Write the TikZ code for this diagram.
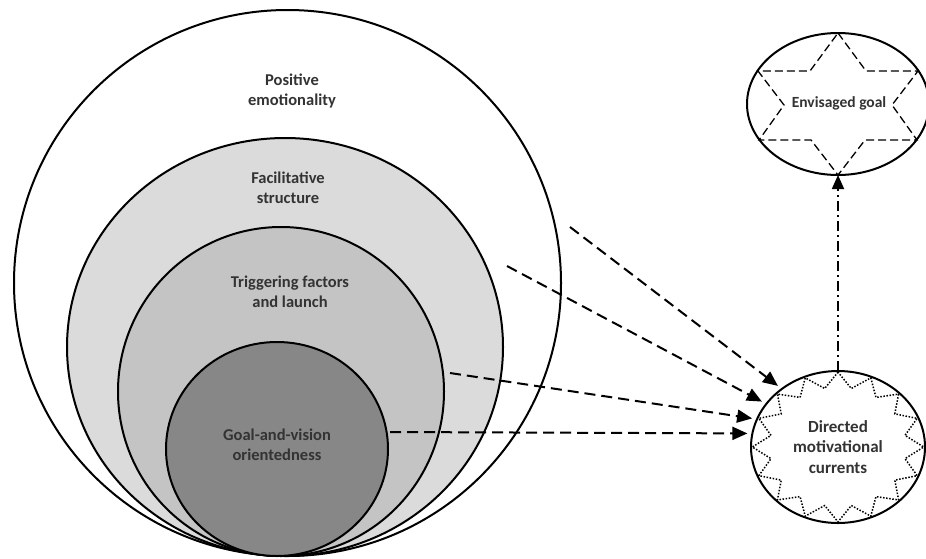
\documentclass[tikz,border=0pt]{standalone}
\usepackage{fontspec}
\setmainfont{Carlito}
\usetikzlibrary{arrows.meta,shapes.geometric}
\definecolor{fsgray}{gray}{0.86}
\definecolor{tfgray}{gray}{0.77}
\definecolor{gvgray}{gray}{0.53}
\definecolor{inkgray}{gray}{0.2}
\begin{document}
\begin{tikzpicture}[x=1pt,y=-1pt,
  ring/.style={ellipse,draw=black,line width=2pt,inner sep=0pt,outer sep=0pt},
  txt/.style={align=center,text=inkgray,font=\fontsize{16.5}{19.5}\selectfont\bfseries},
  flow/.style={line width=2pt,dash pattern=on 11pt off 6pt,shorten >=5pt,
    -{Triangle[length=15pt,width=13pt]}},
  aim/.style={line width=1.8pt,dash pattern=on 10pt off 4pt on 2pt off 4pt,
    -{Triangle[length=14pt,width=12pt]}},
]
\fill[white] (0,0) rectangle (926,558);
\useasboundingbox (0,0) rectangle (926,558);

% nested circles, all touching at the bottom
\node[ring,fill=white,minimum width=547pt,minimum height=546pt] (pe) at (287.5,283) {};
\node[ring,fill=fsgray,minimum width=436pt,minimum height=418pt] (fs) at (285,347) {};
\node[ring,fill=tfgray,minimum width=326pt,minimum height=329pt] (tf) at (281,391.5) {};
\node[ring,fill=gvgray,minimum width=222pt,minimum height=214pt] (gv) at (277,449) {};

\node[txt] (pet) at (292,91) {Positive\\emotionality};
\node[txt] (fst) at (288,188) {Facilitative\\structure};
\node[txt] (tft) at (290,292) {Triggering factors\\and launch};
\node[txt] (gvt) at (277,445) {Goal-and-vision\\orientedness};

% envisaged goal with a dashed six-pointed star
\node[ring,minimum width=182pt,minimum height=142pt] (eg) at (838,104) {};
\draw[line width=1.3pt,dash pattern=on 8pt off 4pt]
  (838,33) -- (866,71) -- (918,71) -- (892,105) -- (917,140) -- (865,140)
  -- (838,175) -- (811,140) -- (759,140) -- (784,105) -- (758,71) -- (810,71) -- cycle;
\node[txt,font=\fontsize{15.5}{19}\selectfont\bfseries] (egt) at (839,103) {Envisaged goal};

% directed motivational currents with a dotted starburst
\node[ring,minimum width=174pt,minimum height=152pt] (dmc) at (838,447) {};
\draw[line width=1.5pt,dash pattern=on 1.5pt off 1.6pt]
  plot[samples at={0,...,32},variable=\k]
  ({838+87*(0.985-0.2*mod(\k,2))*cos(90+11.25*\k)},
   {447-76*(0.985-0.2*mod(\k,2))*sin(90+11.25*\k)});
\node[txt,font=\fontsize{17}{20.5}\selectfont\bfseries] (dmct) at (838,447) {Directed\\motivational\\currents};

% influences feeding the currents
\coordinate (s1) at (570,227);
\coordinate (s2) at (507,266);
\coordinate (s3) at (450,373);
\coordinate (s4) at (390,432);
\draw[flow] (s1) -- (dmc.134);
\draw[flow] (s2) -- (dmc.149);
\draw[flow] (s3) -- (dmc.161);
\draw[flow] (s4) -- (dmc.171);

% currents directed towards the goal
\draw[aim] (dmc.north) -- (eg.south);
\end{tikzpicture}
\end{document}
